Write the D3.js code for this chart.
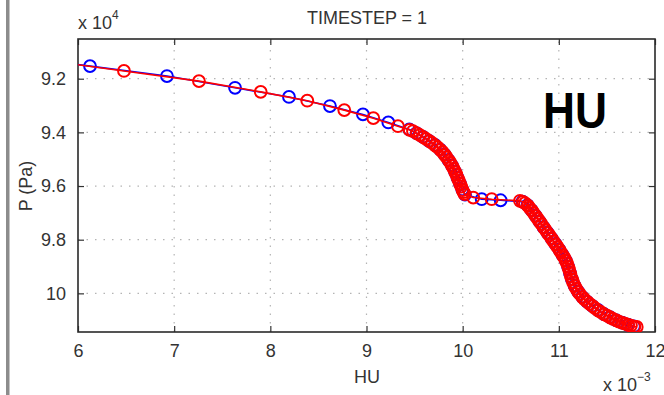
<!DOCTYPE html>
<html>
<head>
<meta charset="utf-8">
<script src="https://cdn.jsdelivr.net/npm/d3@7"></script>
<style>
  html, body { margin: 0; padding: 0; background: #fff; }
  svg { display: block; }
  text { font-family: "Liberation Sans", Arial, Helvetica, sans-serif; }
</style>
</head>
<body>
<svg id="chart" width="664" height="395"></svg>
<script>
// ---- data (HU in units of 1e-3, P in units of 1e4 Pa) ----
const titleText = "TIMESTEP = 1";
const xLabel = "HU";
const yLabel = "P (Pa)";
const bigLabel = "HU";
const xTicks = [6, 7, 8, 9, 10, 11, 12];
const yTicks = [9.2, 9.4, 9.6, 9.8, 10];
const xDomain = [6, 12];
const yDomain = [9.052, 10.144];

const blueHU = [5.75, 6.125, 6.925, 7.633, 8.194, 8.620, 8.963, 9.227, 9.445, 9.520, 9.587, 9.650, 9.712, 9.764, 9.811, 9.853, 9.889, 9.920, 9.946, 9.972, 9.996, 10.024, 10.198, 10.395, 10.622, 10.674, 10.716, 10.757, 10.799, 10.840, 10.882, 10.924, 10.965, 11.005, 11.039, 11.071, 11.096, 11.116, 11.136, 11.163, 11.199, 11.243, 11.293, 11.348, 11.407, 11.469, 11.532, 11.594, 11.657, 11.719, 11.781];
const blueP  = [9.137, 9.153, 9.190, 9.234, 9.268, 9.302, 9.333, 9.363, 9.389, 9.403, 9.417, 9.432, 9.447, 9.463, 9.482, 9.503, 9.524, 9.546, 9.569, 9.591, 9.613, 9.632, 9.649, 9.653, 9.658, 9.671, 9.690, 9.710, 9.732, 9.753, 9.774, 9.795, 9.816, 9.837, 9.857, 9.877, 9.900, 9.924, 9.947, 9.971, 9.993, 10.013, 10.031, 10.047, 10.062, 10.077, 10.089, 10.100, 10.109, 10.117, 10.123];

const redHU = [5.82, 6.478, 7.258, 7.900, 8.384, 8.769, 9.071, 9.327, 9.449, 9.483, 9.524, 9.556, 9.591, 9.619, 9.654, 9.681, 9.716, 9.738, 9.768, 9.790, 9.815, 9.832, 9.857, 9.871, 9.892, 9.905, 9.923, 9.934, 9.949, 9.960, 9.975, 9.985, 9.999, 10.009, 10.020, 10.110, 10.302, 10.596, 10.626, 10.648, 10.678, 10.695, 10.720, 10.736, 10.761, 10.778, 10.803, 10.820, 10.844, 10.861, 10.886, 10.903, 10.928, 10.944, 10.969, 10.986, 11.008, 11.022, 11.042, 11.056, 11.074, 11.085, 11.099, 11.107, 11.119, 11.125, 11.139, 11.148, 11.167, 11.180, 11.203, 11.220, 11.247, 11.267, 11.297, 11.320, 11.352, 11.376, 11.411, 11.438, 11.473, 11.501, 11.536, 11.563, 11.598, 11.625, 11.661, 11.688, 11.723, 11.750, 11.785, 11.810];
const redP  = [9.139, 9.171, 9.209, 9.249, 9.282, 9.317, 9.347, 9.377, 9.391, 9.395, 9.404, 9.410, 9.418, 9.424, 9.433, 9.439, 9.449, 9.455, 9.465, 9.473, 9.484, 9.492, 9.505, 9.513, 9.526, 9.535, 9.548, 9.557, 9.571, 9.580, 9.593, 9.602, 9.615, 9.623, 9.630, 9.643, 9.649, 9.655, 9.659, 9.664, 9.673, 9.681, 9.692, 9.700, 9.712, 9.721, 9.734, 9.742, 9.755, 9.763, 9.776, 9.784, 9.797, 9.806, 9.818, 9.827, 9.839, 9.847, 9.859, 9.867, 9.879, 9.888, 9.902, 9.912, 9.926, 9.936, 9.949, 9.959, 9.973, 9.982, 9.995, 10.003, 10.015, 10.022, 10.032, 10.039, 10.048, 10.055, 10.064, 10.070, 10.078, 10.083, 10.090, 10.095, 10.101, 10.105, 10.110, 10.113, 10.118, 10.120, 10.124, 10.125];

// ---- layout ----
const L = 78, R = 655, T = 39, B = 332;
const svg = d3.select("#chart");

const x = d3.scaleLinear().domain(xDomain).range([L, R]);
const y = d3.scaleLinear().domain(yDomain).range([T, B]);

// left gray frame strip
svg.append("rect").attr("x", 6).attr("y", 0).attr("width", 3.5).attr("height", 395).attr("fill", "#8c8c8c");

svg.append("defs").append("clipPath").attr("id", "clip")
  .append("rect").attr("x", L).attr("y", T).attr("width", R - L).attr("height", B - T);

// grid
const grid = svg.append("g").attr("stroke", "#b4b4b4").attr("stroke-width", 1.2).attr("stroke-dasharray", "1.5,7");
grid.selectAll(".gx").data(xTicks.slice(1, -1)).join("line")
  .attr("x1", d => x(d)).attr("x2", d => x(d)).attr("y1", B).attr("y2", T);
grid.selectAll(".gy").data(yTicks).join("line")
  .attr("y1", d => y(d)).attr("y2", d => y(d)).attr("x1", L).attr("x2", R);

// axes (ticks inward)
const tickLen = 6;
const axB = svg.append("g").attr("transform", `translate(0,${B})`)
  .call(d3.axisBottom(x).tickValues(xTicks).tickSize(-tickLen).tickSizeOuter(0).tickPadding(12).tickFormat(d => String(d)));
const axT = svg.append("g").attr("transform", `translate(0,${T})`)
  .call(d3.axisTop(x).tickValues(xTicks).tickSize(-tickLen).tickSizeOuter(0).tickFormat(""));
const axL = svg.append("g").attr("transform", `translate(${L},0)`)
  .call(d3.axisLeft(y).tickValues(yTicks).tickSize(-tickLen).tickSizeOuter(0).tickPadding(12).tickFormat(d => String(d)));
const axR = svg.append("g").attr("transform", `translate(${R},0)`)
  .call(d3.axisRight(y).tickValues(yTicks).tickSize(-tickLen).tickSizeOuter(0).tickFormat(""));
[axB, axT, axL, axR].forEach(g => {
  g.select(".domain").remove();
  g.selectAll(".tick line").attr("stroke", "#333").attr("stroke-width", 1.2);
  g.selectAll(".tick text").attr("font-size", 18).attr("fill", "#333")
    .style("font-family", '"Liberation Sans", Arial, sans-serif');
});
axB.selectAll(".tick text").attr("dy", "0.71em");
svg.append("rect").attr("x", L).attr("y", T).attr("width", R - L).attr("height", B - T)
  .attr("fill", "none").attr("stroke", "#2a2a2a").attr("stroke-width", 1.6);

// series
const line = d3.line().x(d => x(d[0])).y(d => y(d[1]));
const blue = blueHU.map((v, i) => [v, blueP[i]]);
const red = redHU.map((v, i) => [v, redP[i]]);
const plot = svg.append("g").attr("clip-path", "url(#clip)");

function drawSeries(data, color) {
  plot.append("path").datum(data).attr("d", line)
    .attr("fill", "none").attr("stroke", color).attr("stroke-width", 1.6);
  plot.selectAll(null).data(data).join("circle")
    .attr("cx", d => x(d[0])).attr("cy", d => y(d[1])).attr("r", 5.9)
    .attr("fill", "none").attr("stroke", color).attr("stroke-width", 2);
}
drawSeries(blue, "#0000ff");
drawSeries(red, "#ff0000");

// texts
svg.append("text").attr("x", 367).attr("y", 24).attr("text-anchor", "middle")
  .attr("font-size", 18).attr("fill", "#333").text(titleText);

const e4 = svg.append("text").attr("x", 78).attr("y", 29).attr("font-size", 18).attr("fill", "#333");
e4.append("tspan").text("x 10");
e4.append("tspan").attr("font-size", 12).attr("dy", -10).text("4");

const e3 = svg.append("text").attr("x", 603).attr("y", 391).attr("font-size", 18).attr("fill", "#333");
e3.append("tspan").text("x 10");
e3.append("tspan").attr("font-size", 12).attr("dy", -10).text("\u22123");

svg.append("text").attr("x", 367).attr("y", 383).attr("text-anchor", "middle")
  .attr("font-size", 18).attr("fill", "#333").text(xLabel);

svg.append("text").attr("transform", "translate(32,186) rotate(-90)").attr("text-anchor", "middle")
  .attr("font-size", 18).attr("fill", "#333").text(yLabel);

svg.append("text").attr("x", 543).attr("y", 128).attr("font-size", 50).attr("font-weight", "bold")
  .attr("fill", "#000").attr("textLength", 64).attr("lengthAdjust", "spacingAndGlyphs").text(bigLabel);
</script>
</body>
</html>
